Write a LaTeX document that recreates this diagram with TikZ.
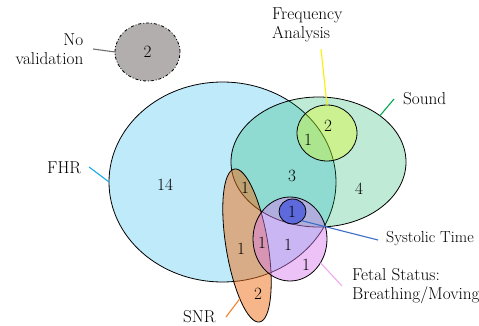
\documentclass[tikz,border=0pt]{standalone}
\usetikzlibrary{shapes.geometric}
\definecolor{fhrc}{RGB}{0,170,235}
\definecolor{soundc}{RGB}{0,175,90}
\definecolor{freqc}{RGB}{230,255,0}
\definecolor{snrc}{RGB}{240,110,20}
\definecolor{fetalc}{RGB}{215,120,235}
\definecolor{sysc}{RGB}{40,60,220}
\definecolor{novalc}{RGB}{178,174,174}
\definecolor{lnyellow}{RGB}{250,240,0}
\definecolor{lngreen}{RGB}{0,170,80}
\definecolor{lncyan}{RGB}{30,170,230}
\definecolor{lnorange}{RGB}{240,130,50}
\definecolor{lnblue}{RGB}{60,110,200}
\definecolor{lnpink}{RGB}{240,170,240}
\definecolor{lngray}{RGB}{110,110,110}
\tikzset{
  setshape/.style={ellipse, draw=black, line width=0.8pt, inner sep=0pt, outer sep=0pt},
  lbl/.style={inner sep=0pt, font=\fontsize{17.2}{19}\selectfont},
  num/.style={inner sep=0pt, font=\fontsize{17.2}{19}\selectfont},
  conn/.style={line width=1.1pt},
}
\begin{document}
\begin{tikzpicture}[x=1pt,y=-1pt]
\useasboundingbox (0,0) rectangle (479,326);
% sets
\node[setshape, fill=fhrc, fill opacity=0.25, minimum width=227pt, minimum height=200pt] (fhr) at (222.5,182) {};
\node[setshape, fill=soundc, fill opacity=0.25, minimum width=175pt, minimum height=130pt] (sound) at (318.5,162) {};
\node[setshape, fill=freqc, fill opacity=0.32, minimum width=60pt, minimum height=56pt] (freq) at (327,133) {};
\node[setshape, fill=snrc, fill opacity=0.5, minimum width=42pt, minimum height=155pt, rotate=9.3] (snr) at (247,245.5) {};
\node[setshape, fill=fetalc, fill opacity=0.45, minimum width=74pt, minimum height=84pt] (fetal) at (290,239) {};
\node[setshape, fill=sysc, fill opacity=0.6, minimum width=27pt, minimum height=25pt] (sys) at (292.5,211.5) {};
\node[setshape, fill=novalc, dash dot, minimum width=65pt, minimum height=58pt] (noval) at (147.5,52) {};
% numbers
\node[num] (c1) at (147.5,52) {2};
\node[num] (c2) at (165,185) {14};
\node[num] (c3) at (328,126) {2};
\node[num] (c4) at (308,140) {1};
\node[num] (c5) at (292,176) {3};
\node[num] (c6) at (359,189) {4};
\node[num] (c7) at (245,188) {1};
\node[num] (c8) at (241,249) {1};
\node[num] (c9) at (262,243) {1};
\node[num] (c10) at (288,245) {1};
\node[num] (c11) at (306,265) {1};
\node[num] (c12) at (292,212) {1};
\node[num] (c13) at (258,294) {2};
% labels
\node[lbl, align=right, anchor=east] (lnoval) at (83.5,49.5) {No\\validation};
\node[lbl, align=left, anchor=west] (lfreq) at (272,25) {Frequency\\Analysis};
\node[lbl, anchor=west] (lsound) at (403,99) {Sound};
\node[lbl, anchor=west] (lfhr) at (47,168) {FHR};
\node[lbl, anchor=west] (lsnr) at (183,317) {SNR};
\node[lbl, anchor=west, font=\fontsize{16}{19}\selectfont] (lsys) at (386,239) {Systolic Time};
\node[lbl, align=left, anchor=west] (lfetal) at (352,286) {Fetal Status:\\Breathing/Moving};
% connector ends
\coordinate (nvA) at (93,49);
\coordinate (fqA) at (321,49);
\coordinate (sdA) at (394,99);
\coordinate (fhA) at (89,167);
\coordinate (snA) at (226,317);
\coordinate (stA) at (378,240);
\coordinate (ftA) at (342,286);
% connectors
\draw[conn, lngray] (nvA) -- (noval.west);
\draw[conn, lnyellow] (fqA) -- (freq.north);
\draw[conn, lngreen] (sdA) -- (sound.37);
\draw[conn, lncyan] (fhA) -- (fhr.west);
\draw[conn, lnorange] (snA) -- (snr.253);
\draw[conn, lnblue] (sys.-45) -- (stA);
\draw[conn, lnpink] (fetal.-38) -- (ftA);
\end{tikzpicture}
\end{document}
